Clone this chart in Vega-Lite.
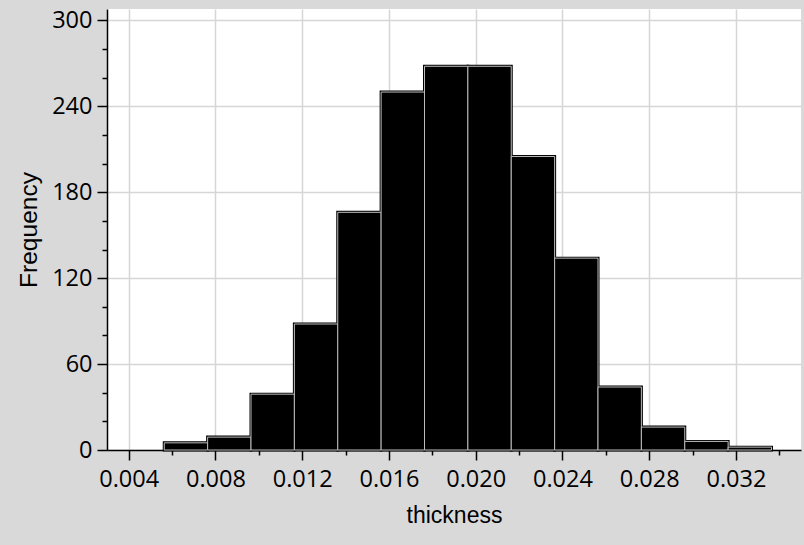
{
  "$schema": "https://vega.github.io/schema/vega-lite/v6.json",
  "width": 694,
  "height": 441,
  "autosize": {"type": "none"},
  "padding": {"left": 107, "top": 9, "right": 3, "bottom": 95},
  "background": "#d9d9d9",
  "config": {"view": {"fill": "white", "stroke": null}},
  "data": {
    "values": [
      {"start": 0.00564, "end": 0.00764, "count": 5},
      {"start": 0.00764, "end": 0.00964, "count": 9},
      {"start": 0.00964, "end": 0.01164, "count": 39},
      {"start": 0.01164, "end": 0.01364, "count": 88},
      {"start": 0.01364, "end": 0.01564, "count": 166},
      {"start": 0.01564, "end": 0.01764, "count": 250},
      {"start": 0.01764, "end": 0.01964, "count": 268},
      {"start": 0.01964, "end": 0.02164, "count": 268},
      {"start": 0.02164, "end": 0.02364, "count": 205},
      {"start": 0.02364, "end": 0.02564, "count": 134},
      {"start": 0.02564, "end": 0.02764, "count": 44},
      {"start": 0.02764, "end": 0.02964, "count": 16},
      {"start": 0.02964, "end": 0.03164, "count": 6},
      {"start": 0.03164, "end": 0.03364, "count": 2}
    ]
  },
  "encoding": {
    "x": {
      "field": "start",
      "type": "quantitative",
      "scale": {"domain": [0.003, 0.035], "nice": false, "zero": false},
      "axis": {
        "title": "thickness",
        "values": [0.004, 0.006, 0.008, 0.010, 0.012, 0.014, 0.016, 0.018, 0.020, 0.022, 0.024, 0.026, 0.028, 0.030, 0.032, 0.034],
        "format": ".3f",
        "labelExpr": "round(datum.value*1000) % 4 == 0 ? datum.label : ''",
        "tickSize": {"condition": {"test": "round(datum.value*1000) % 4 == 0", "value": 10}, "value": 5},
        "gridOpacity": {"condition": {"test": "round(datum.value*1000) % 4 == 0", "value": 1}, "value": 0},
        "grid": true,
        "gridColor": "#d6d6d6",
        "gridWidth": 1.5,
        "domainColor": "black",
        "domainWidth": 1.5,
        "tickColor": "black",
        "tickWidth": 1.5,
        "labelFont": "Open Sans",
        "labelFontSize": 23.5,
        "labelColor": "black",
        "labelPadding": 7,
        "labelFlush": false,
        "labelOverlap": false,
        "titleFont": "Liberation Sans",
        "titleFontSize": 23,
        "titleFontWeight": "normal",
        "titleColor": "black",
        "titlePadding": 14
      }
    },
    "x2": {"field": "end"},
    "y": {
      "field": "count",
      "type": "quantitative",
      "scale": {"domain": [0, 308], "nice": false},
      "axis": {
        "title": "Frequency",
        "values": [0, 20, 40, 60, 80, 100, 120, 140, 160, 180, 200, 220, 240, 260, 280, 300],
        "labelExpr": "datum.value % 60 == 0 ? datum.label : ''",
        "tickSize": {"condition": {"test": "datum.value % 60 == 0", "value": 10}, "value": 5},
        "gridOpacity": {"condition": {"test": "datum.value % 60 == 0", "value": 1}, "value": 0},
        "grid": true,
        "gridColor": "#d6d6d6",
        "gridWidth": 1.5,
        "domainColor": "black",
        "domainWidth": 1.5,
        "tickColor": "black",
        "tickWidth": 1.5,
        "labelFont": "Open Sans",
        "labelFontSize": 23.5,
        "labelColor": "black",
        "labelPadding": 5,
        "labelFlush": false,
        "labelOverlap": false,
        "titleFont": "Liberation Sans",
        "titleFontSize": 24.5,
        "titleFontWeight": "normal",
        "titleColor": "black",
        "titlePadding": 10
      }
    },
    "y2": {"datum": 0}
  },
  "layer": [
    {"mark": {"type": "rect", "fill": "black", "stroke": "black", "strokeWidth": 3}},
    {"mark": {"type": "rect", "fill": "black", "stroke": "#bdbdbd", "strokeWidth": 1}}
  ]
}
